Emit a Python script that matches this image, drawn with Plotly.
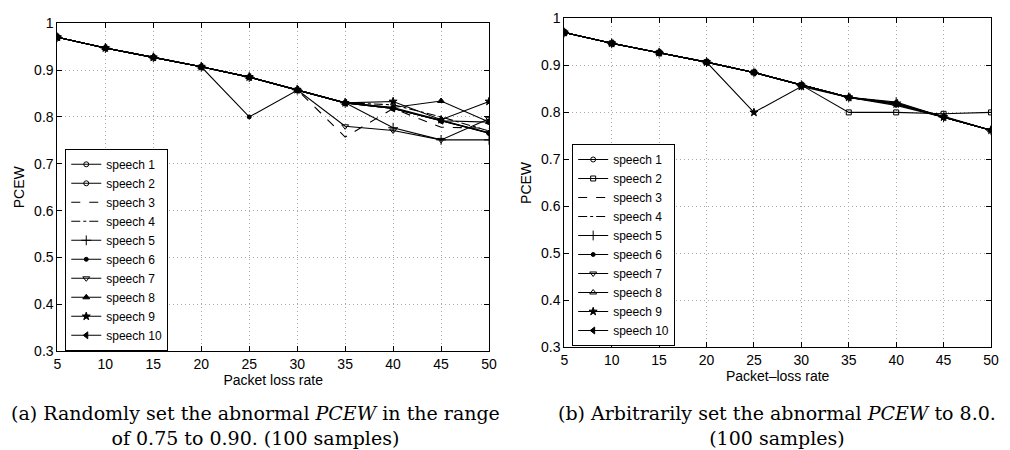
import plotly.graph_objects as go

x_rate = [5, 10, 15, 20, 25, 30, 35, 40, 45, 50]
y_ticks = [0.3, 0.4, 0.5, 0.6, 0.7, 0.8, 0.9, 1.0]
y_ticktext = ["0.3", "0.4", "0.5", "0.6", "0.7", "0.8", "0.9", "1"]
names = ["speech 1", "speech 2", "speech 3", "speech 4", "speech 5",
         "speech 6", "speech 7", "speech 8", "speech 9", "speech 10"]

# (a) random abnormal PCEW
a_vals = [
    [0.970, 0.947, 0.927, 0.907, 0.885, 0.858, 0.830, 0.820, 0.793, 0.766],
    [0.970, 0.947, 0.927, 0.907, 0.885, 0.858, 0.830, 0.818, 0.792, 0.789],
    [0.970, 0.947, 0.927, 0.907, 0.885, 0.858, 0.757, 0.818, 0.778, 0.776],
    [0.970, 0.947, 0.927, 0.907, 0.885, 0.858, 0.830, 0.826, 0.800, 0.770],
    [0.970, 0.947, 0.927, 0.907, 0.885, 0.858, 0.830, 0.777, 0.751, 0.751],
    [0.970, 0.947, 0.927, 0.907, 0.800, 0.857, 0.830, 0.818, 0.792, 0.765],
    [0.970, 0.947, 0.927, 0.907, 0.885, 0.858, 0.780, 0.771, 0.751, 0.796],
    [0.970, 0.947, 0.927, 0.907, 0.885, 0.858, 0.830, 0.820, 0.834, 0.789],
    [0.970, 0.947, 0.927, 0.907, 0.885, 0.858, 0.830, 0.833, 0.794, 0.833],
    [0.970, 0.947, 0.927, 0.907, 0.885, 0.858, 0.830, 0.818, 0.792, 0.766],
]

# (b) abnormal PCEW fixed to 8.0
b_vals = [
    [0.970, 0.947, 0.927, 0.907, 0.885, 0.858, 0.832, 0.820, 0.790, 0.762],
    [0.970, 0.947, 0.927, 0.907, 0.885, 0.858, 0.800, 0.800, 0.797, 0.800],
    [0.970, 0.947, 0.927, 0.907, 0.885, 0.858, 0.832, 0.818, 0.790, 0.762],
    [0.970, 0.947, 0.927, 0.907, 0.885, 0.858, 0.832, 0.818, 0.790, 0.762],
    [0.970, 0.947, 0.927, 0.907, 0.885, 0.858, 0.832, 0.822, 0.790, 0.762],
    [0.970, 0.947, 0.927, 0.907, 0.885, 0.858, 0.832, 0.815, 0.790, 0.762],
    [0.970, 0.947, 0.927, 0.907, 0.885, 0.858, 0.832, 0.818, 0.790, 0.762],
    [0.970, 0.947, 0.927, 0.907, 0.885, 0.858, 0.832, 0.818, 0.792, 0.762],
    [0.970, 0.947, 0.927, 0.907, 0.800, 0.855, 0.832, 0.818, 0.790, 0.762],
    [0.970, 0.947, 0.927, 0.907, 0.885, 0.858, 0.832, 0.820, 0.790, 0.762],
]

a_markers = ["circle-open", "circle-open", None, None, "cross-thin-open",
             "circle", "triangle-down-open", "triangle-up", "star", "triangle-left"]
b_markers = ["circle-open", "square-open", None, None, "cross-thin-open",
             "circle", "triangle-down-open", "triangle-up-open", "star", "triangle-left"]
dashes = ["solid", "solid", "dash", "dashdot", "solid", "solid", "solid", "solid", "solid", "solid"]
msizes = [5, 5, 5, 5, 7, 4, 6, 6, 6, 6]

fig = go.Figure()

for panel, vals, markers, xa, ya, lg in [("a", a_vals, a_markers, "x", "y", "legend"),
                                          ("b", b_vals, b_markers, "x2", "y2", "legend2")]:
    for i, name in enumerate(names):
        m = markers[i]
        mode = "lines+markers" if m else "lines"
        fig.add_trace(go.Scatter(
            x=x_rate, y=vals[i], name=name, mode=mode,
            line=dict(color="black", width=1.1, dash=dashes[i]),
            marker=dict(symbol=m if m else "circle", size=msizes[i], color="black",
                        line=dict(color="black", width=1)),
            xaxis=xa, yaxis=ya, legend=lg,
        ))

tick_font = dict(family="Liberation Sans, Arial", size=14, color="black")
axis_common = dict(
    showline=True, linecolor="black", linewidth=1, mirror="ticks",
    ticks="inside", ticklen=5, tickcolor="black", tickfont=tick_font,
    showgrid=True, gridcolor="#a8a8a8", gridwidth=1, griddash="1px,3px",
    zeroline=False,
)

leg_font = dict(family="Liberation Sans, Arial", size=12, color="black")

fig.update_layout(
    width=1010, height=450, margin=dict(l=0, r=0, t=0, b=0),
    paper_bgcolor="white", plot_bgcolor="white",
    showlegend=True,
    xaxis=dict(domain=[0.0535, 0.486], range=[5, 50], tickvals=x_rate, anchor="y",
               title=dict(text="Packet loss rate", font=tick_font, standoff=2), **axis_common),
    yaxis=dict(domain=[0.209, 0.965], range=[0.3, 1.0], tickvals=y_ticks, ticktext=y_ticktext,
               anchor="x", title=dict(text="PCEW", font=tick_font, standoff=6), **axis_common),
    xaxis2=dict(domain=[0.5614, 0.989], range=[5, 50], tickvals=x_rate, anchor="y2",
                title=dict(text="Packet\u2013loss rate", font=tick_font, standoff=2), **axis_common),
    yaxis2=dict(domain=[0.218, 0.976], range=[0.3, 1.0], tickvals=y_ticks, ticktext=y_ticktext,
                anchor="x2", title=dict(text="PCEW", font=tick_font, standoff=6), **axis_common),
    legend=dict(x=62 / 1010, y=1 - 146 / 450, xanchor="left", yanchor="top",
                bgcolor="white", bordercolor="black", borderwidth=1,
                font=leg_font, itemwidth=30, tracegroupgap=0),
    legend2=dict(x=575 / 1010, y=1 - 141 / 450, xanchor="left", yanchor="top",
                 bgcolor="white", bordercolor="black", borderwidth=1,
                 font=leg_font, itemwidth=30, tracegroupgap=0),
)

cap_font = dict(family="DejaVu Serif, Liberation Serif", size=19, color="black")
fig.add_annotation(text="(a) Randomly set the abnormal <i>PCEW</i> in the range<br>of 0.75 to 0.90. (100 samples)",
                   x=0.2525, y=1 - 433 / 450, xref="paper", yref="paper", showarrow=False,
                   font=cap_font, align="center", xanchor="center", yanchor="middle")
fig.add_annotation(text="(b) Arbitrarily set the abnormal <i>PCEW</i> to 8.0.<br>(100 samples)",
                   x=0.775, y=1 - 433 / 450, xref="paper", yref="paper", showarrow=False,
                   font=cap_font, align="center", xanchor="center", yanchor="middle")

fig.write_html("out.html")
